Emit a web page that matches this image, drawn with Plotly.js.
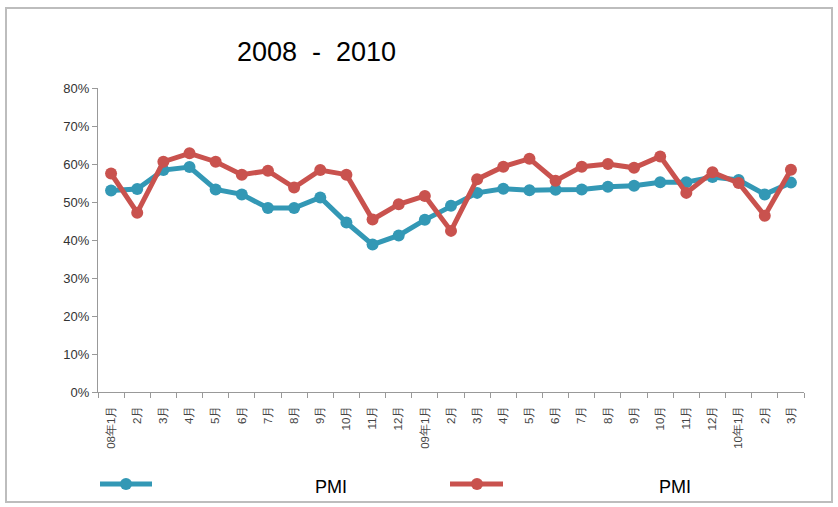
<!DOCTYPE html>
<html><head><meta charset="utf-8">
<script src="https://cdn.plot.ly/plotly-3.0.1.min.js"></script>
<style>body{margin:0;background:#fff}#wrap{position:relative;width:838px;height:507px}#chart{width:838px;height:507px}#frame{position:absolute;left:5px;top:7px;width:828px;height:496px;border:2px solid #bdbdbd;pointer-events:none;box-sizing:border-box}</style>
</head><body><div id="wrap"><div id="chart"></div><div id="frame"></div></div>
<script>
const categories = ["08年1月","2月","3月","4月","5月","6月","7月","8月","9月","10月","11月","12月",
  "09年1月","2月","3月","4月","5月","6月","7月","8月","9月","10月","11月","12月",
  "10年1月","2月","3月"];
const seriesBlue = [53.0,53.4,58.4,59.2,53.3,52.0,48.4,48.4,51.2,44.6,38.8,41.2,
  45.3,49.0,52.4,53.5,53.1,53.2,53.3,54.0,54.3,55.2,55.2,56.6,55.8,52.0,55.1];
const seriesRed = [57.5,47.2,60.6,62.8,60.6,57.2,58.2,53.8,58.4,57.2,45.4,49.4,
  51.6,42.4,56.0,59.3,61.4,55.6,59.3,60.0,59.0,62.0,52.4,57.8,55.0,46.4,58.5];
const legendNames = ["PMI","PMI"];
const titleText = "2008  -  2010";

const blue = "#3398b5", red = "#c9524e";
const idx = categories.map((_, i) => i);
const toFrac = a => a.map(v => v / 100);
const FONT = "Liberation Sans, Arial, sans-serif";

function trace(vals, color, name){
  return {x: idx, y: toFrac(vals), type: "scatter", mode: "lines+markers", name: name,
    line: {color: color, width: 5}, marker: {color: color, size: 12, symbol: "circle"},
    showlegend: false, hoverinfo: "skip"};
}

// plot area in px: x 98..804, y 88..392
const L = 98, R = 804, T = 88, B = 392;
const px = x => (x - L) / (R - L);
const py = y => (B - y) / (B - T);

const legendItems = [
  {color: blue, x0: 100, x1: 152, cx: 126, tx: 331, name: legendNames[0]},
  {color: red, x0: 450, x1: 503, cx: 477, tx: 675, name: legendNames[1]}
];
const shapes = [], annotations = [];
legendItems.forEach(it => {
  shapes.push({type: "line", xref: "paper", yref: "paper", x0: px(it.x0), x1: px(it.x1),
    y0: py(484), y1: py(484), line: {color: it.color, width: 5}});
  shapes.push({type: "circle", xref: "paper", yref: "paper", x0: px(it.cx - 6), x1: px(it.cx + 6),
    y0: py(490), y1: py(478), fillcolor: it.color, line: {color: it.color, width: 0}});
  annotations.push({xref: "paper", yref: "paper", x: px(it.tx), y: py(487), text: it.name,
    showarrow: false, xanchor: "center", yanchor: "middle",
    font: {family: FONT, size: 18, color: "#000"}});
});
annotations.push({xref: "paper", yref: "paper", x: px(235), y: py(52), text: titleText,
  showarrow: false, xanchor: "left", yanchor: "middle",
  font: {family: FONT, size: 27, color: "#000"}});

const boundaries = [-0.5].concat(idx.map(i => i + 0.5));

const layout = {
  width: 838, height: 507,
  margin: {l: L, r: 838 - R, t: T, b: 507 - B},
  paper_bgcolor: "#fff", plot_bgcolor: "#fff",
  showlegend: false,
  xaxis: {
    type: "linear", range: [-0.5, categories.length - 0.5],
    tickmode: "array", tickvals: idx, ticktext: categories, tickangle: -90,
    showgrid: false, zeroline: false, showline: true, linecolor: "#999", linewidth: 1,
    ticks: "outside", ticklen: 8, tickcolor: "rgba(0,0,0,0)",
    tickfont: {family: FONT, size: 11.5, color: "#444"},
    fixedrange: true
  },
  xaxis2: {
    overlaying: "x", anchor: "y", range: [-0.5, categories.length - 0.5],
    tickmode: "array", tickvals: boundaries,
    showticklabels: false, ticks: "outside", ticklen: 5, tickcolor: "#999",
    showgrid: false, zeroline: false, side: "bottom"
  },
  yaxis: {
    range: [0, 0.8], tickvals: [0,0.1,0.2,0.3,0.4,0.5,0.6,0.7,0.8], tickformat: ".0%",
    showgrid: false, zeroline: false, showline: true, linecolor: "#999", linewidth: 1,
    ticks: "outside", ticklen: 5, tickcolor: "#999",
    tickfont: {family: FONT, size: 13, color: "#333"},
    fixedrange: true
  },
  shapes: shapes, annotations: annotations
};

const data = [trace(seriesBlue, blue, legendNames[0]), trace(seriesRed, red, legendNames[1]),
  {x: [0], y: [null], xaxis: "x2", type: "scatter", mode: "markers", showlegend: false, hoverinfo: "skip"}];
Plotly.newPlot("chart", data, layout, {staticPlot: true, displayModeBar: false});
</script></body></html>
